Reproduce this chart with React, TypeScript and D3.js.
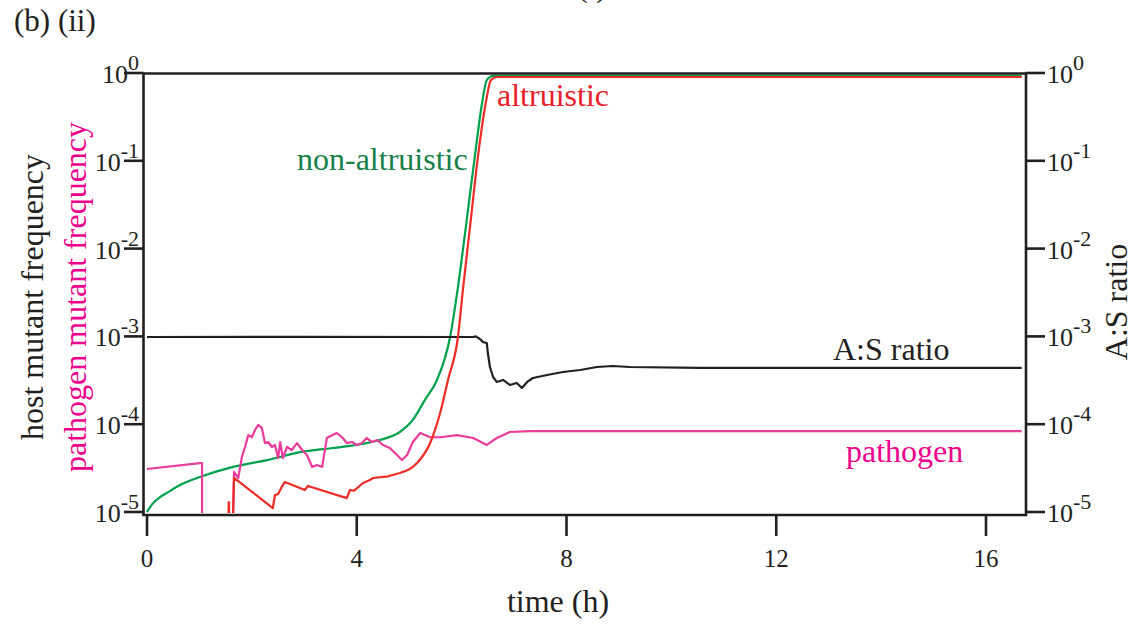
import React from "react";
import * as d3 from "d3";

// time (h), frequency
const nonAltruistic: [number, number][] = [
  [0, 1.0e-5], [0.1, 1.23e-5], [0.25, 1.48e-5], [0.38, 1.65e-5], [0.63, 2.03e-5],
  [1.01, 2.5e-5], [1.64, 3.26e-5], [2.29, 3.9e-5], [2.92, 4.8e-5], [3.55, 5.36e-5],
  [4.19, 6.1e-5], [4.44, 6.6e-5], [4.82, 8.15e-5], [5.07, 1.12e-4], [5.3, 1.89e-4],
  [5.53, 3.19e-4], [5.78, 9.84e-4], [5.93, 3.65e-3], [6.08, 1.76e-2], [6.25, 0.11],
  [6.39, 0.455], [6.48, 0.83], [6.6, 0.925], [16.68, 0.925],
];

const altruistic: [number, number][] = [
  [1.54, 5e-6], [1.56, 1.3e-5], [1.58, 5e-6], [1.63, 5e-6], [1.66, 2.44e-5],
  [2.4, 1.11e-5], [2.44, 1.56e-5], [2.5, 1.6e-5], [2.57, 1.93e-5], [2.63, 2.2e-5],
  [3.01, 1.78e-5], [3.07, 1.98e-5], [3.81, 1.44e-5], [3.87, 1.78e-5], [3.95, 1.75e-5],
  [4.12, 2.14e-5], [4.25, 2.31e-5], [4.31, 2.44e-5], [4.6, 2.55e-5], [4.82, 2.78e-5],
  [5.15, 3.61e-5], [5.4, 6.1e-5], [5.59, 1.34e-4], [5.74, 3.19e-4], [5.93, 9.84e-4],
  [6.03, 3.65e-3], [6.16, 1.76e-2], [6.31, 0.11], [6.46, 0.455], [6.56, 0.83],
  [6.67, 0.9], [16.68, 0.9],
];

const pathogen: [number, number][] = [
  [0, 3.09e-5], [1.01, 3.61e-5], [1.05, 3.61e-5], [1.05, 5e-6], [1.63, 5e-6],
  [1.66, 2.86e-5], [1.74, 2.44e-5], [1.81, 4.23e-5], [1.87, 5.5e-5], [1.93, 7.5e-5],
  [2.0, 7.1e-5], [2.06, 8.6e-5], [2.12, 9.8e-5], [2.19, 9.06e-5], [2.25, 6.1e-5],
  [2.31, 6.27e-5], [2.38, 5.5e-5], [2.44, 5.8e-5], [2.5, 4.12e-5], [2.54, 6.27e-5],
  [2.59, 4.12e-5], [2.67, 5.5e-5], [2.76, 5.08e-5], [2.86, 6.1e-5], [2.96, 5.08e-5],
  [3.05, 4.46e-5], [3.15, 3.26e-5], [3.24, 3.43e-5], [3.34, 3.26e-5], [3.43, 6.96e-5],
  [3.53, 7.5e-5], [3.62, 7.94e-5], [3.72, 7.1e-5], [3.81, 6.1e-5], [3.91, 6.27e-5],
  [4.0, 5.8e-5], [4.1, 6.1e-5], [4.19, 6.96e-5], [4.29, 6.27e-5], [4.39, 6.6e-5],
  [4.5, 5.8e-5], [4.63, 5.36e-5], [4.77, 4.46e-5], [4.86, 3.91e-5], [4.96, 4.46e-5],
  [5.07, 6.27e-5], [5.21, 7.94e-5], [5.4, 7.1e-5], [5.59, 7.1e-5], [5.91, 7.5e-5],
  [6.22, 6.96e-5], [6.48, 5.8e-5], [6.67, 6.96e-5], [6.92, 8.15e-5], [7.3, 8.35e-5],
  [16.68, 8.35e-5],
];

const asRatio: [number, number][] = [
  [0, 9.85e-4], [3, 9.9e-4], [6.22, 9.85e-4], [6.27, 1.0e-3], [6.35, 9.3e-4],
  [6.41, 8.6e-4], [6.48, 8.4e-4], [6.5, 6.47e-4], [6.54, 4.48e-4], [6.6, 3.45e-4],
  [6.67, 3.03e-4], [6.79, 3.19e-4], [6.92, 2.8e-4], [7.05, 2.95e-4], [7.15, 2.58e-4],
  [7.25, 3.03e-4], [7.36, 3.36e-4], [7.63, 3.63e-4], [7.93, 3.93e-4], [8.26, 4.14e-4],
  [8.58, 4.48e-4], [8.88, 4.6e-4], [9.21, 4.48e-4], [10.54, 4.37e-4], [16.68, 4.37e-4],
];

const xTicks = [0, 4, 8, 12, 16];
const yExponents = [0, -1, -2, -3, -4, -5];

const FONT = "'Liberation Serif', 'Times New Roman', serif";
const INK = "#231f20";

export default function App() {
  const x = d3.scaleLinear().domain([0, 16]).range([147, 986]);
  const y = d3.scaleLog().domain([1e-5, 1]).range([512, 73]);
  const linear = d3
    .line<[number, number]>()
    .x((d) => x(d[0]))
    .y((d) => y(d[1]));
  const smooth = d3
    .line<[number, number]>()
    .x((d) => x(d[0]))
    .y((d) => y(d[1]))
    .curve(d3.curveMonotoneX);

  const left = 143.5;
  const right = 1026;
  const top = 73.5;
  const bottom = 515;

  const riseStart = 19;
  const paths = [
    { d: smooth(nonAltruistic), color: "#00a14b" },
    { d: linear(pathogen), color: "#ea3c9c" },
    { d: linear(asRatio), color: INK },
    { d: linear(altruistic.slice(0, riseStart + 1)), color: "#ee2b24" },
    { d: smooth(altruistic.slice(riseStart)), color: "#ee2b24" },
  ];

  return (
    <svg
      width={1135}
      height={627}
      style={{ position: "absolute", left: 0, top: 0, background: "#fff" }}
      fontFamily={FONT}
    >
      <defs>
        <clipPath id="plot">
          <rect x={left} y={72} width={right - left} height={441} />
        </clipPath>
      </defs>
      <rect width={1135} height={627} fill="#fff" />

      <text x={592} y={-3} fontSize={30} textAnchor="middle" fill={INK}>(i)</text>
      <text x={14} y={31} fontSize={31} fill={INK}>(b) (ii)</text>

      <g clipPath="url(#plot)" fill="none" strokeWidth={2.2} strokeLinejoin="round">
        {paths.map((p, i) => (
          <path key={i} d={p.d || ""} stroke={p.color} />
        ))}
      </g>

      {/* frame */}
      <g stroke={INK} strokeWidth={2.6} fill="none">
        <line x1={left} y1={top} x2={right} y2={top} />
        <line x1={left} y1={top - 1} x2={left} y2={bottom + 1} />
        <line x1={right} y1={top - 1} x2={right} y2={bottom + 1} />
        <line x1={left - 1} y1={bottom} x2={right + 1} y2={bottom} />
      </g>

      {/* y ticks left and right */}
      {yExponents.map((e) => {
        const yy = y(Math.pow(10, e));
        return (
          <g key={e}>
            <line x1={124} x2={left} y1={yy} y2={yy} stroke={INK} strokeWidth={2.6} />
            <line x1={right} x2={1045} y1={yy} y2={yy} stroke={INK} strokeWidth={2.6} />
            <text x={139} y={yy + 10} fontSize={26} textAnchor="end" fill={INK}>
              10<tspan fontSize={22} dy={-13}>{e === 0 ? "0" : String(e)}</tspan>
            </text>
            <text x={1047} y={yy + 10} fontSize={26} textAnchor="start" fill={INK}>
              10<tspan fontSize={22} dy={-13}>{e === 0 ? "0" : String(e)}</tspan>
            </text>
          </g>
        );
      })}

      {/* x ticks */}
      {xTicks.map((t) => (
        <g key={t}>
          <line x1={x(t)} x2={x(t)} y1={bottom} y2={536} stroke={INK} strokeWidth={2.6} />
          <text x={x(t)} y={567} fontSize={25} textAnchor="middle" fill={INK}>{t}</text>
        </g>
      ))}

      <text x={558} y={612} fontSize={32} textAnchor="middle" fill={INK}>time (h)</text>

      <text transform="translate(43,297) rotate(-90)" fontSize={32} textAnchor="middle" fill={INK}>
        host mutant frequency
      </text>
      <text transform="translate(86,297) rotate(-90)" fontSize={32} textAnchor="middle" fill="#ec008c">
        pathogen mutant frequency
      </text>
      <text transform="translate(1127,302) rotate(-90)" fontSize={32} textAnchor="middle" fill={INK}>
        A:S ratio
      </text>

      <text x={297} y={170} fontSize={32} fill="#177f48">non-altruistic</text>
      <text x={497} y={106} fontSize={32} fill="#e8202a">altruistic</text>
      <text x={833} y={360} fontSize={32} fill={INK}>A:S ratio</text>
      <text x={846} y={462} fontSize={32} fill="#ec008c">pathogen</text>
    </svg>
  );
}
